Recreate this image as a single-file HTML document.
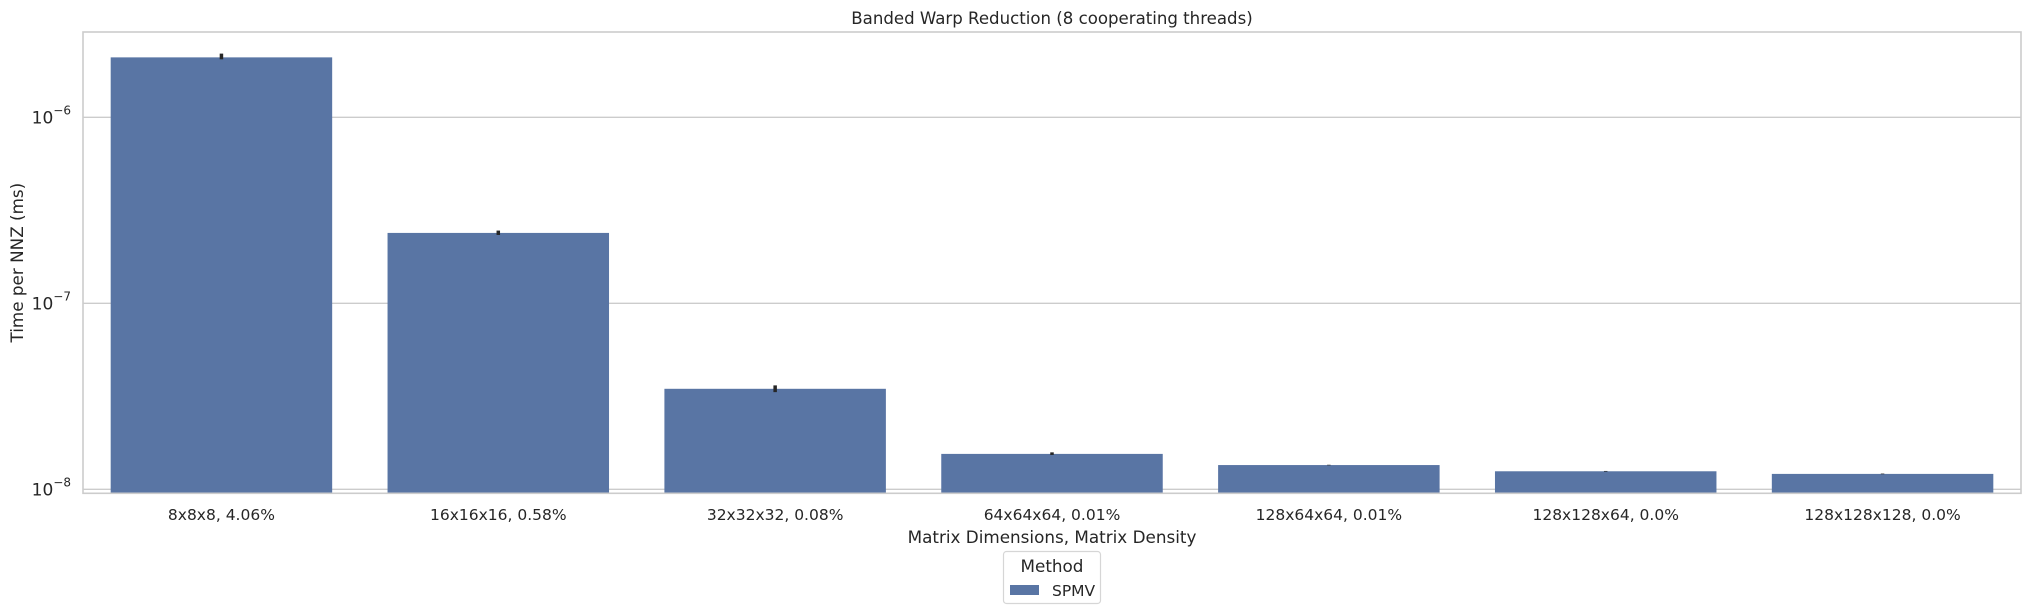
<!DOCTYPE html>
<html><head><meta charset="utf-8"><style>
html,body{margin:0;padding:0;background:#fff;}
svg{display:block;font-family:"DejaVu Sans","Liberation Sans",sans-serif;}
</style></head><body>
<svg id="chart" width="2030" height="614" xmlns="http://www.w3.org/2000/svg"></svg>
<script>
const categories=["8x8x8, 4.06%","16x16x16, 0.58%","32x32x32, 0.08%","64x64x64, 0.01%","128x64x64, 0.01%","128x128x64, 0.0%","128x128x128, 0.0%"];
const values=[2.10e-6,2.39e-7,3.47e-8,1.55e-8,1.35e-8,1.25e-8,1.21e-8];
const errLow=[2.05e-6,2.33e-7,3.33e-8,1.53e-8,1.345e-8,1.245e-8,1.205e-8];
const errHigh=[2.20e-6,2.46e-7,3.62e-8,1.58e-8,1.355e-8,1.255e-8,1.215e-8];
const yTicks=[-6,-7,-8];

const NS="http://www.w3.org/2000/svg";
const svg=document.getElementById('chart');
const L=83,R=2021,T=32,B=493.3;
const yMin=-8.0215,yMax=-5.5414;
function y(v){return B-(Math.log10(v)-yMin)/(yMax-yMin)*(B-T);}
function yl(e){return B-(e-yMin)/(yMax-yMin)*(B-T);}
const band=(R-L)/categories.length;
function xc(i){return L+band*(i+0.5);}
function mk(tag,attrs,parent){const e=document.createElementNS(NS,tag);for(const k in attrs)e.setAttribute(k,attrs[k]);(parent||svg).appendChild(e);return e;}

yTicks.forEach(e=>{
  const g=mk('line',{x1:L,x2:R,y1:yl(e),y2:yl(e),stroke:'#cccccc','stroke-width':1.3});
  
  
  const t=mk('text',{x:L-12,y:yl(e)+6,'text-anchor':'end','font-size':17,fill:'#262626'});
  
  
  t.textContent='10';
  const s=mk('tspan',{dy:-9,'font-size':12},t);
  s.textContent='\u2212'+(-e);
});
values.forEach((v,i)=>{
  const w=band*0.8;
  const r=mk('rect',{x:xc(i)-w/2,y:y(v),width:w,height:B-y(v),fill:'#5975a4'});
  
  
  const el=mk('line',{x1:xc(i),x2:xc(i),y1:y(errHigh[i]),y2:y(errLow[i]),stroke:'#262626','stroke-width':3.5});
  
  
  const t=mk('text',{x:xc(i),y:520,'text-anchor':'middle','font-size':15.5,fill:'#262626'});
  
  
  t.textContent=categories[i];
});
const f=mk('rect',{x:L,y:T,width:R-L,height:B-T,fill:'none',stroke:'#cccccc','stroke-width':1.6});


const ti=mk('text',{x:(L+R)/2,y:24,'text-anchor':'middle','font-size':16.6,fill:'#262626'});


ti.textContent='Banded Warp Reduction (8 cooperating threads)';
const xt=mk('text',{x:(L+R)/2,y:543,'text-anchor':'middle','font-size':16.8,fill:'#262626'});


xt.textContent='Matrix Dimensions, Matrix Density';
const yt=mk('text',{x:0,y:0,'text-anchor':'middle','font-size':16.8,fill:'#262626',transform:'translate(23,'+((T+B)/2)+') rotate(-90)'});


yt.textContent='Time per NNZ (ms)';
const lg=mk('g',{});


mk('rect',{x:1003.5,y:551.5,width:97,height:52,rx:3,fill:'#fff',stroke:'#d6d6d6','stroke-width':1.2},lg);
const lt=mk('text',{x:1052,y:572,'text-anchor':'middle','font-size':16.8,fill:'#262626'},lg);


lt.textContent='Method';
const lp=mk('rect',{x:1010,y:585,width:29,height:10,fill:'#5975a4'},lg);


const ll=mk('text',{x:1052,y:596,'font-size':15.5,fill:'#262626'},lg);


ll.textContent='SPMV';
</script>
</body></html>
